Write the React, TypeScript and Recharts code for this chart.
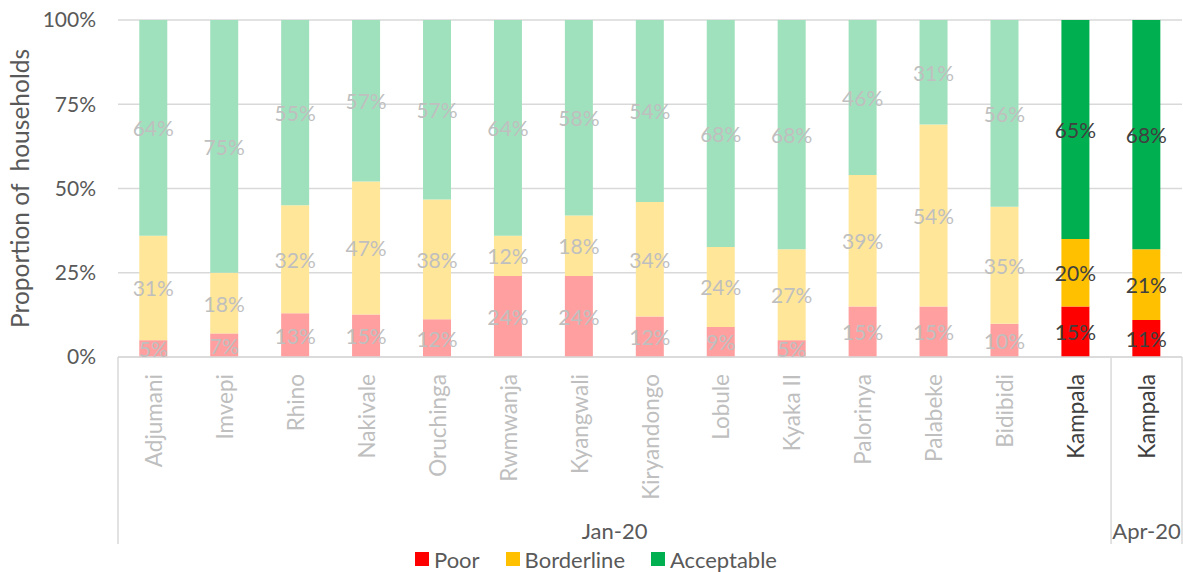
import { Bar, BarChart, CartesianGrid, Cell, LabelList, Legend, XAxis, YAxis } from "recharts";

const sites = ["Adjumani", "Imvepi", "Rhino", "Nakivale", "Oruchinga", "Rwmwanja", "Kyangwali", "Kiryandongo", "Lobule", "Kyaka II", "Palorinya", "Palabeke", "Bidibidi", "Kampala", "Kampala"];
const periods = ["Jan-20", "Jan-20", "Jan-20", "Jan-20", "Jan-20", "Jan-20", "Jan-20", "Jan-20", "Jan-20", "Jan-20", "Jan-20", "Jan-20", "Jan-20", "Jan-20", "Apr-20"];
const highlighted = [false, false, false, false, false, false, false, false, false, false, false, false, false, true, true];

// raw label values; the chart normalises each column to 100%
const poor = [5, 7, 13, 15, 12, 24, 24, 12, 9, 5, 15, 15, 10, 15, 11];
const borderline = [31, 18, 32, 47, 38, 12, 18, 34, 24, 27, 39, 54, 35, 20, 21];
const acceptable = [64, 75, 55, 57, 57, 64, 58, 54, 68, 68, 46, 31, 56, 65, 68];
const yTicks = [0, 0.25, 0.5, 0.75, 1];

const data = sites.map((site, i) => ({ site, poor: poor[i], borderline: borderline[i], acceptable: acceptable[i] }));

const W = 1183;
const H = 572;
const LEFT = 118;
const RIGHT = 1;
const STEP = (W - LEFT - RIGHT) / sites.length;
const FONT = "Lato, 'Open Sans', sans-serif";
const GRID = "#d9d9d9";
const FADED = "#bfbfbf";
const DARK = "#404040";
const TEXT = "#595959";

const series = [
  { key: "poor", name: "Poor", strong: "#ff0000", faded: "#ff9f9f" },
  { key: "borderline", name: "Borderline", strong: "#ffc000", faded: "#ffe699" },
  { key: "acceptable", name: "Acceptable", strong: "#00b050", faded: "#a0e1bd" },
];
const seriesOrder = series.map((s) => s.name);

function SiteTick(props: any) {
  const { x, y, payload } = props;
  const i = payload.index;
  const period = periods[i];
  const first = periods.indexOf(period);
  const last = periods.lastIndexOf(period);
  const boxBottom = y + 187;
  return (
    <g>
      <text
        transform={`translate(${x},${y + 17}) rotate(-90)`}
        textAnchor="end"
        dominantBaseline="central"
        fontFamily={FONT}
        fontSize={22.5}
        fill={highlighted[i] ? DARK : FADED}
      >
        {sites[i]}
      </text>
      {i === first && <line x1={x - STEP / 2} x2={x - STEP / 2} y1={y} y2={boxBottom} stroke={GRID} strokeWidth={1.5} />}
      {i === periods.length - 1 && <line x1={x + STEP / 2} x2={x + STEP / 2} y1={y} y2={boxBottom} stroke={GRID} strokeWidth={1.5} />}
      {i === first && (
        <text x={x + ((last - first) * STEP) / 2} y={y + 173} textAnchor="middle" dominantBaseline="central" fontFamily={FONT} fontSize={22} fill={TEXT}>
          {period}
        </text>
      )}
    </g>
  );
}

function makeValueLabel(dataKey: string) {
  return (props: any) => {
    const { x, y, width, height, index } = props;
    const value = (data[index] as any)[dataKey];
    return (
      <text
        x={x + width / 2}
        y={y + height / 2}
        textAnchor="middle"
        dominantBaseline="central"
        fontFamily={FONT}
        fontSize={21}
        fill={highlighted[index] ? DARK : FADED}
      >
        {value}%
      </text>
    );
  };
}

function renderLegend(props: any) {
  const items = [...(props.payload || [])].sort((a: any, b: any) => seriesOrder.indexOf(a.value) - seriesOrder.indexOf(b.value));
  return (
    <div style={{ display: "flex", justifyContent: "center", gap: 26, height: 26, alignItems: "center", paddingLeft: 10, fontFamily: FONT, fontSize: 22, color: TEXT }}>
      {items.map((it: any) => (
        <span key={it.value} style={{ display: "flex", alignItems: "center", gap: 5 }}>
          <span style={{ width: 14, height: 14, background: it.color, display: "inline-block" }} />
          {it.value}
        </span>
      ))}
    </div>
  );
}

export default function App() {
  return (
    <div style={{ position: "absolute", left: 0, top: 0, background: "#fff" }}>
      <BarChart width={W} height={H} data={data} stackOffset="expand" barCategoryGap="30%" margin={{ top: 20, right: RIGHT, bottom: 0, left: 0 }}>
        <CartesianGrid vertical={false} stroke={GRID} strokeWidth={1.5} />
        <XAxis dataKey="site" interval={0} height={189} tickLine={false} tickSize={0} tickMargin={0} axisLine={{ stroke: GRID, strokeWidth: 1.5 }} tick={<SiteTick />} />
        <YAxis
          width={LEFT}
          domain={[0, 1]}
          ticks={yTicks}
          tickFormatter={(v: number) => `${Math.round(v * 100)}%`}
          axisLine={false}
          tickLine={false}
          tickSize={0}
          tickMargin={22}
          tick={{ fontFamily: FONT, fontSize: 21, fill: TEXT }}
          label={{
            content: (p: any) => {
              const vb = p.viewBox;
              const cy = vb.y + vb.height / 2;
              return (
                <text transform={`translate(${19},${cy}) rotate(-90)`} textAnchor="middle" dominantBaseline="central" fontFamily={FONT} fontSize={24.5} fill={TEXT} xmlSpace="preserve" style={{ whiteSpace: "pre" }}>
                  {"Proportion of  households"}
                </text>
              );
            },
          }}
        />
        <Legend verticalAlign="bottom" content={renderLegend} />
        {series.map((s) => (
          <Bar key={s.key} dataKey={s.key} name={s.name} stackId="a" fill={s.strong} isAnimationActive={false}>
            {data.map((_, i) => (
              <Cell key={i} fill={highlighted[i] ? s.strong : s.faded} />
            ))}
            <LabelList dataKey={s.key} content={makeValueLabel(s.key)} />
          </Bar>
        ))}
      </BarChart>
    </div>
  );
}
